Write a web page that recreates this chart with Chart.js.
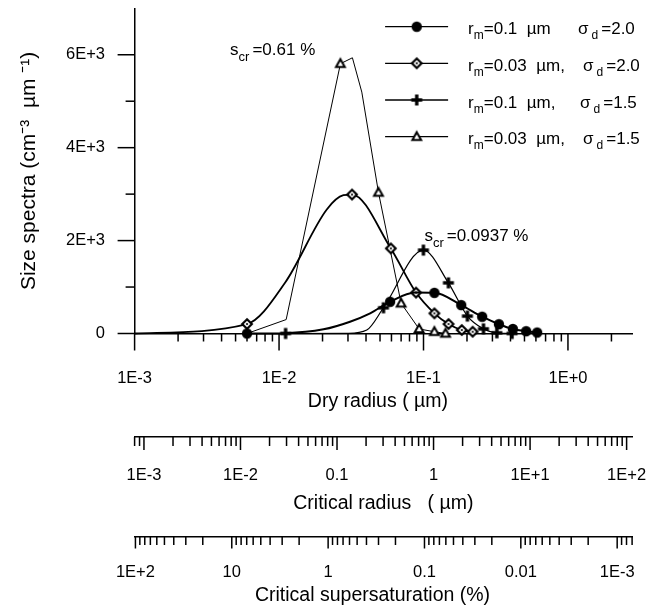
<!DOCTYPE html>
<html>
<head>
<meta charset="utf-8">
<script src="https://cdn.jsdelivr.net/npm/chart.js@4.4.1/dist/chart.umd.min.js"></script>
<style>
html,body{margin:0;padding:0;background:#fff;overflow:hidden;}
canvas{display:block;}
</style>
</head>
<body>
<canvas id="chart" width="661" height="605"></canvas>
<script>
// ---------------- data ----------------
// r_m = 0.1 um, sigma_d = 2.0  (filled circles)
const radiusA  = [0.006, 0.011, 0.0203, 0.031, 0.0427, 0.0587, 0.0875, 0.119, 0.1824, 0.2548, 0.3327, 0.4155, 0.5135, 0.612];
const spectraA = [0, 8, 90, 254, 434, 683, 880, 875, 612, 361, 200, 97, 49, 21];
const markedA  = [1, 0, 0, 0, 0, 1, 0, 1, 1, 1, 1, 1, 1, 1];
// r_m = 0.03 um, sigma_d = 2.0  (diamonds)
const radiusB  = [0.001, 0.006, 0.011, 0.0214, 0.0279, 0.032, 0.0594, 0.0888, 0.119, 0.149, 0.184, 0.2188];
const spectraB = [0, 204, 1092, 2669, 2976, 2991, 1831, 881, 434, 204, 75, 39];
const markedB  = [0, 1, 0, 0, 0, 1, 1, 1, 1, 1, 1, 1];
// r_m = 0.1 um, sigma_d = 1.5  (plus signs)
const radiusC  = [0.0111, 0.030, 0.0405, 0.0528, 0.0998, 0.1487, 0.2014, 0.26, 0.3218, 0.41];
const spectraC = [0, 5, 75, 554, 1795, 1090, 375, 100, 15, 0];
const markedC  = [1, 0, 0, 1, 1, 1, 1, 1, 1, 1];
// r_m = 0.03 um, sigma_d = 1.5  (triangles)
const radiusD  = [0.006, 0.0112, 0.0266, 0.0322, 0.0374, 0.0488, 0.070, 0.0933, 0.119, 0.142];
const spectraD = [0, 300, 5807, 5935, 5196, 3034, 649, 97, 39, 0];
const markedD  = [0, 0, 1, 0, 0, 1, 1, 1, 1, 1];

// legend texts
const legendRm    = ['0.1', '0.03', '0.1', '0.03'];
const legendSep   = ['', ',', ',', ','];
const legendSigma = ['2.0', '2.0', '1.5', '1.5'];

// annotations: value text and anchor (dry radius, size spectra)
const annotText = ['=0.61 %', '=0.0937 %'];
const annotX    = [0.00458, 0.1014];
const annotY    = [5985, 1988];

// ticks
const yMajorTicks = [0, 2000, 4000, 6000];
const yTickLabels = ['0', '2E+3', '4E+3', '6E+3'];
const yMinorTicks = [1000, 3000, 5000];
const dryMajor  = [0.001, 0.01, 0.1, 1];
const dryLabels = ['1E-3', '1E-2', '1E-1', '1E+0'];
const critMajor  = [0.001, 0.01, 0.1, 1, 10, 100];
const critLabels = ['1E-3', '1E-2', '0.1', '1', '1E+1', '1E+2'];
const supMajor  = [100, 10, 1, 0.1, 0.01, 0.001];
const supLabels = ['1E+2', '10', '1', '0.1', '0.01', '1E-3'];

// axis ranges
const dryMin = 0.001, dryMax = 2.78;
const critMin = 8e-4, critMax = 114;
const supMin = 7e-4, supMax = 102;

// ---------------- helpers ----------------
const FONT = "'Liberation Sans', Arial, sans-serif";
Chart.defaults.font.family = FONT;
Chart.defaults.color = '#000';

function logMinors(min, max) {
  const out = [];
  for (let e = Math.floor(Math.log10(min)); e <= Math.ceil(Math.log10(max)); e++) {
    for (let m = 2; m <= 9; m++) {
      const v = m * Math.pow(10, e);
      if (v >= min * 0.999 && v <= max * 1.001) out.push(v);
    }
  }
  return out;
}

function makeMarker(kind) {
  const c = document.createElement('canvas');
  c.width = 16; c.height = 16;
  const g = c.getContext('2d');
  const m = 8;
  if (kind === 'circle') {
    g.beginPath(); g.arc(m, m, 5.2, 0, Math.PI * 2); g.fillStyle = '#000'; g.fill();
  } else if (kind === 'diamond') {
    const r = 4.8;
    g.beginPath(); g.moveTo(m, m - r); g.lineTo(m + r, m); g.lineTo(m, m + r); g.lineTo(m - r, m); g.closePath();
    g.fillStyle = '#fff'; g.fill(); g.lineWidth = 2.2; g.strokeStyle = '#000'; g.stroke();
    g.beginPath(); g.arc(m, m, 1.1, 0, Math.PI * 2); g.fillStyle = '#000'; g.fill();
  } else if (kind === 'plus') {
    g.fillStyle = '#000';
    g.fillRect(m - 5.5, m - 1.7, 11, 3.4);
    g.fillRect(m - 1.7, m - 5.5, 3.4, 11);
  } else if (kind === 'triangle') {
    g.beginPath(); g.moveTo(m, m - 4.6); g.lineTo(m + 4.4, m + 3.2); g.lineTo(m - 4.4, m + 3.2); g.closePath();
    g.fillStyle = '#fff'; g.fill(); g.lineWidth = 2; g.lineJoin = 'miter'; g.strokeStyle = '#000'; g.stroke();
  }
  return c;
}
const markers = [makeMarker('circle'), makeMarker('diamond'), makeMarker('plus'), makeMarker('triangle')];

function pts(xs, ys) { return xs.map((x, i) => ({ x: x, y: ys[i] })); }
function radii(flags) { return flags.map(f => f ? 6 : 0); }

// ---------------- decorations plugin (tick marks, legend, annotations) ----------------
const decorations = {
  id: 'decorations',
  afterDraw(chart) {
    const { ctx, scales } = chart;
    ctx.save();
    ctx.strokeStyle = '#000';
    ctx.lineWidth = 1.5;
    const vTicks = (s, vals, len) => vals.forEach(v => {
      const p = s.getPixelForValue(v);
      ctx.beginPath(); ctx.moveTo(s.right, p); ctx.lineTo(s.right - len, p); ctx.stroke();
    });
    const hTicks = (s, vals, len) => vals.forEach(v => {
      const p = s.getPixelForValue(v);
      ctx.beginPath(); ctx.moveTo(p, s.top); ctx.lineTo(p, s.top + len); ctx.stroke();
    });
    vTicks(scales.y, yMajorTicks, 17);
    vTicks(scales.y, yMinorTicks, 9);
    hTicks(scales.x, dryMajor, 17);
    hTicks(scales.x, logMinors(dryMin, dryMax), 8);
    hTicks(scales.xCr, critMajor, 13);
    hTicks(scales.xCr, logMinors(critMin, critMax), 9);
    hTicks(scales.xSs, supMajor, 12);
    hTicks(scales.xSs, logMinors(supMin, supMax), 8.5);

    // legend
    const area = chart.chartArea;
    const lx0 = area.right - 247, lx1 = area.right - 184, mx = area.right - 215.4;
    const tx = area.right - 164;
    const sigX = [area.right - 54, area.right - 49, area.right - 52, area.right - 49];
    const rowY = [26.7, 63.3, 100, 136.7];
    ctx.fillStyle = '#000';
    ctx.textBaseline = 'alphabetic';
    ctx.textAlign = 'left';
    for (let i = 0; i < 4; i++) {
      const y = rowY[i];
      ctx.lineWidth = 1.3;
      ctx.beginPath(); ctx.moveTo(lx0, y); ctx.lineTo(lx1, y); ctx.stroke();
      ctx.drawImage(markers[i], mx - 8, y - 8);
      const base = y + 7.6;
      let x = tx;
      ctx.font = '17px ' + FONT;
      ctx.fillText('r', x, base); x += ctx.measureText('r').width;
      ctx.font = '12px ' + FONT;
      ctx.fillText('m', x, base + 5); x += ctx.measureText('m').width;
      ctx.font = '17px ' + FONT;
      ctx.fillText('=' + legendRm[i] + '  \u00b5m' + legendSep[i], x, base);
      let sx = sigX[i];
      ctx.fillText('\u03c3', sx, base); sx += ctx.measureText('\u03c3').width + 3;
      ctx.font = '12px ' + FONT;
      ctx.fillText('d', sx, base + 5); sx += ctx.measureText('d').width + 3;
      ctx.font = '17px ' + FONT;
      ctx.fillText('=' + legendSigma[i], sx, base);
    }

    // annotations
    for (let i = 0; i < annotText.length; i++) {
      let x = scales.x.getPixelForValue(annotX[i]);
      const base = scales.y.getPixelForValue(annotY[i]);
      ctx.font = '17px ' + FONT;
      ctx.fillText('s', x, base); x += ctx.measureText('s').width;
      ctx.font = '13px ' + FONT;
      ctx.fillText('cr', x, base + 6); x += ctx.measureText('cr').width + 3;
      ctx.font = '17px ' + FONT;
      ctx.fillText(annotText[i], x, base);
    }
    ctx.restore();
  }
};

// ---------------- chart ----------------
const tickFont = { size: 16.5, lineHeight: 1.2 };
const titleFont = { size: 19.5, lineHeight: 1 };
const hiddenTicks = (len) => ({ display: true, drawOnChartArea: false, drawTicks: true, tickLength: len, tickColor: 'rgba(0,0,0,0)' });
const axisBorder = { display: true, color: '#000', width: 1.5 };

new Chart(document.getElementById('chart'), {
  type: 'line',
  data: {
    datasets: [
      { label: 'r_m=0.1 um, sigma_d=2.0', data: pts(radiusA, spectraA), borderColor: '#000', borderWidth: 2,
        pointStyle: markers[0], pointRadius: radii(markedA), cubicInterpolationMode: 'monotone', clip: false },
      { label: 'r_m=0.03 um, sigma_d=2.0', data: pts(radiusB, spectraB), borderColor: '#000', borderWidth: 1.8,
        pointStyle: markers[1], pointRadius: radii(markedB), cubicInterpolationMode: 'monotone', clip: false },
      { label: 'r_m=0.1 um, sigma_d=1.5', data: pts(radiusC, spectraC), borderColor: '#000', borderWidth: 1.2,
        pointStyle: markers[2], pointRadius: radii(markedC), cubicInterpolationMode: 'monotone', clip: false },
      { label: 'r_m=0.03 um, sigma_d=1.5', data: pts(radiusD, spectraD), borderColor: '#000', borderWidth: 1,
        pointStyle: markers[3], pointRadius: radii(markedD), tension: 0, clip: false }
    ]
  },
  options: {
    responsive: false,
    animation: false,
    devicePixelRatio: 1,
    layout: { padding: { top: 8.3, right: 28.9, left: 0, bottom: 0 } },
    plugins: { legend: { display: false }, tooltip: { enabled: false } },
    elements: { point: { borderWidth: 0, hoverRadius: 0 } },
    scales: {
      x: {
        type: 'logarithmic', position: 'bottom', weight: 1, min: dryMin, max: dryMax,
        afterBuildTicks: s => { s.ticks = dryMajor.map(v => ({ value: v })); },
        afterFit: s => { s.height = 103.5; s.paddingLeft = 0; s.paddingRight = 0; },
        ticks: { autoSkip: false, maxRotation: 0, minRotation: 0, padding: 2, font: tickFont, color: '#000',
                 callback: (v, i) => dryLabels[i] },
        grid: hiddenTicks(32.6), border: axisBorder,
        title: { display: true, text: 'Dry radius ( \u00b5m)  ', color: '#000', font: titleFont, padding: { top: 0, bottom: 25.25 } }
      },
      xCr: {
        type: 'logarithmic', position: 'bottom', weight: 2, min: critMin, max: critMax,
        afterBuildTicks: s => { s.ticks = critMajor.map(v => ({ value: v })); },
        afterFit: s => { s.height = 99.5; s.paddingLeft = 0; s.paddingRight = 0; },
        ticks: { autoSkip: false, maxRotation: 0, minRotation: 0, padding: 2, font: tickFont, color: '#000',
                 callback: (v, i) => critLabels[i] },
        grid: hiddenTicks(26.6), border: axisBorder,
        title: { display: true, text: 'Critical radius   ( \u00b5m)', color: '#000', font: titleFont, padding: { top: 0, bottom: 23.25 } }
      },
      xSs: {
        type: 'logarithmic', position: 'bottom', weight: 3, min: supMin, max: supMax, reverse: true,
        afterBuildTicks: s => { s.ticks = supMajor.map(v => ({ value: v })); },
        afterFit: s => { s.height = 68.5; s.paddingLeft = 0; s.paddingRight = 0; },
        ticks: { autoSkip: false, maxRotation: 0, minRotation: 0, padding: 2, font: tickFont, color: '#000',
                 callback: (v, i) => supLabels[i] },
        grid: hiddenTicks(24.4), border: axisBorder,
        title: { display: true, text: 'Critical supersaturation (%)    ', color: '#000', font: titleFont, padding: { top: 0, bottom: 0 } }
      },
      y: {
        type: 'linear', position: 'left', min: 0, max: 7000,
        afterBuildTicks: s => { s.ticks = yMajorTicks.map(v => ({ value: v })); },
        afterFit: s => { s.width = 134.6; s.paddingTop = 0; s.paddingBottom = 0; },
        ticks: { padding: 0, font: { size: 16.5, lineHeight: 1 }, color: '#000', callback: (v, i) => yTickLabels[i] },
        grid: hiddenTicks(29.6), border: axisBorder,
        title: { display: true, text: 'Size spectra (cm\u207b\u00b3  \u00b5m \u207b\u00b9)', color: '#000',
                 font: { size: 21, lineHeight: 1 }, padding: { top: 18.5, bottom: 0 } }
      }
    }
  },
  plugins: [decorations]
});
</script>
</body>
</html>
